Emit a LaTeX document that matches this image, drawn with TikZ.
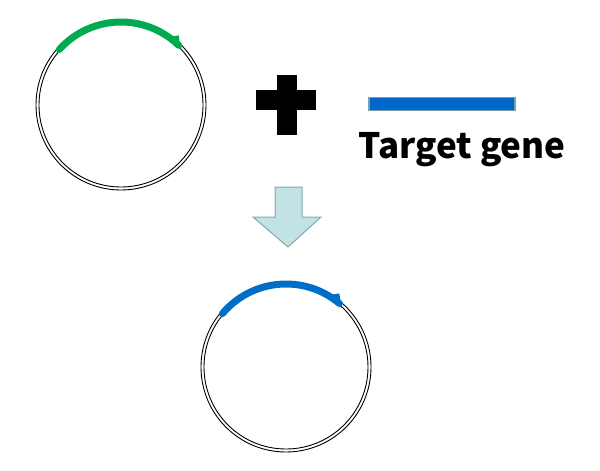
\documentclass[tikz,border=0pt]{standalone}
\usepackage{fontspec}
\newfontfamily\lab{Noto Sans CJK JP}
\definecolor{gg}{RGB}{0,170,80}
\definecolor{bg}{RGB}{0,110,200}
\definecolor{edge}{RGB}{120,160,170}
\definecolor{bar}{RGB}{0,102,204}
\definecolor{aedge}{RGB}{130,170,170}
\definecolor{afill}{RGB}{195,226,230}
\begin{document}
\begin{tikzpicture}[x=1pt,y=-1pt,
  ring/.style={draw=black,line width=0.9pt},
  gene/.style={line width=7pt,line cap=round}]
\useasboundingbox (0,0) rectangle (600,471);
% plasmid 1
\node[ring,circle,minimum size=170pt,inner sep=0] (p1) at (121,105) {};
\node[ring,circle,minimum size=164pt,inner sep=0] (p1i) at (121,105) {};
\draw[gene,draw=gg] (p1.center) ++(-138:83) arc[start angle=-138,end angle=-46,radius=83] coordinate (g1);
\fill[gg] (g1) ++(2,4) -- ++(-14,-12) -- ++(12,-2) -- cycle;
% plus
\fill[black] (277,75) rectangle (297,135);
\fill[black] (256,90) rectangle (316,110);
% target gene
\node[draw=edge,line width=1.5pt,fill=bar,minimum width=146pt,minimum height=13pt,inner sep=0] (tg) at (442,104) {};
\node[font=\lab\bfseries\fontsize{35}{38}\selectfont,inner sep=0] (tt) at (462,150) {Target gene};
% arrow
\draw[draw=aedge,fill=afill,line width=1pt] (275,187) -- (302,187) -- (302,217) -- (321,217) -- (288,247) -- (253,217) -- (275,217) -- cycle;
% plasmid 2
\node[ring,circle,minimum size=170pt,inner sep=0] (p2) at (286,367) {};
\node[ring,circle,minimum size=164pt,inner sep=0] (p2i) at (286,367) {};
\draw[gene,draw=bg] (p2.center) ++(-140:83) arc[start angle=-140,end angle=-50,radius=83] coordinate (g2);
\fill[bg] (g2) ++(2,4) -- ++(-14,-12) -- ++(12,-2) -- cycle;
\end{tikzpicture}
\end{document}
